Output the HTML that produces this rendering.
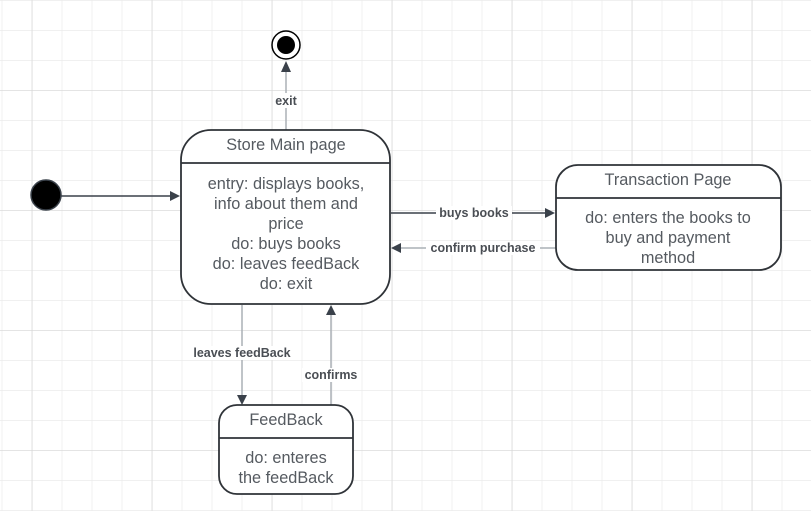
<!DOCTYPE html>
<html><head><style>
body{margin:0;width:811px;height:511px;overflow:hidden;background:#fff}
</style></head><body>
<svg width="811" height="511" xmlns="http://www.w3.org/2000/svg" font-family="Liberation Sans, sans-serif">
<defs>
<pattern id="g" x="1.7" y="0" width="30" height="30" patternUnits="userSpaceOnUse">
<path d="M0 0V30M0 0H30" stroke="#e8e8e8" stroke-width="1.2" fill="none"/>
</pattern>
<pattern id="G" x="31.7" y="90" width="120" height="120" patternUnits="userSpaceOnUse">
<path d="M0 0V120M0 0H120" stroke="#d6d6d6" stroke-width="1.3" fill="none"/>
</pattern>
</defs>
<rect width="811" height="511" fill="url(#g)"/>
<rect width="811" height="511" fill="url(#G)"/>

<g stroke-width="1.5">
<line x1="61" y1="196" x2="172" y2="196" stroke="#3a414a"/>
<polygon points="180,196 170,191 170,201" fill="#3a414a"/>
<line x1="286" y1="130" x2="286" y2="70" stroke="#aab0b6"/>
<polygon points="286,61 281,72 291,72" fill="#3a414a"/>
<line x1="391" y1="213" x2="546" y2="213" stroke="#3a414a"/>
<polygon points="555,213 545,208 545,218" fill="#3a414a"/>
<line x1="556" y1="248" x2="400" y2="248" stroke="#aab0b6"/>
<polygon points="391,248 401,243 401,253" fill="#3a414a"/>
<line x1="242" y1="305" x2="242" y2="396" stroke="#aab0b6"/>
<polygon points="242,405 237,395 247,395" fill="#3a414a"/>
<line x1="331" y1="405" x2="331" y2="314" stroke="#aab0b6"/>
<polygon points="331,305 326,315 336,315" fill="#3a414a"/>
</g>

<circle cx="46" cy="195" r="15" fill="#000" stroke="#3a414a" stroke-width="1.5"/>
<circle cx="286" cy="45" r="14" fill="#fff" stroke="#000" stroke-width="1.5"/>
<circle cx="286" cy="45" r="9" fill="#000"/>

<g fill="#fff" stroke="#2f3338" stroke-width="1.8">
<rect x="181" y="130" width="209" height="174" rx="30"/>
<line x1="181" y1="163" x2="390" y2="163"/>
<rect x="556" y="165" width="225" height="105" rx="22"/>
<line x1="556" y1="198" x2="781" y2="198"/>
<rect x="219" y="405" width="134" height="89" rx="18"/>
<line x1="219" y1="438" x2="353" y2="438"/>
</g>

<g fill="#555a60" font-size="16.3" text-anchor="middle">
<text x="286" y="150">Store Main page</text>
<text x="286" y="189">entry: displays books,</text>
<text x="286" y="209">info about them and</text>
<text x="286" y="229">price</text>
<text x="286" y="249">do: buys books</text>
<text x="286" y="269">do: leaves feedBack</text>
<text x="286" y="289">do: exit</text>
<text x="668" y="185">Transaction Page</text>
<text x="668" y="223">do: enters the books to</text>
<text x="668" y="243">buy and payment</text>
<text x="668" y="263">method</text>
<text x="286" y="425">FeedBack</text>
<text x="286" y="463">do: enteres</text>
<text x="286" y="483">the feedBack</text>
</g>

<g font-size="12.5" font-weight="bold" fill="#4a4e54" text-anchor="middle">
<rect x="273" y="93" width="26" height="15" fill="#fff"/>
<text x="286" y="105">exit</text>
<rect x="436" y="206" width="76" height="14" fill="#fff"/>
<text x="474" y="217">buys books</text>
<rect x="426" y="241" width="114" height="14" fill="#fff"/>
<text x="483" y="252">confirm purchase</text>
<rect x="189" y="346" width="106" height="14" fill="#fff"/>
<text x="242" y="357">leaves feedBack</text>
<rect x="302" y="368" width="58" height="14" fill="#fff"/>
<text x="331" y="379">confirms</text>
</g>
</svg>
</body></html>
